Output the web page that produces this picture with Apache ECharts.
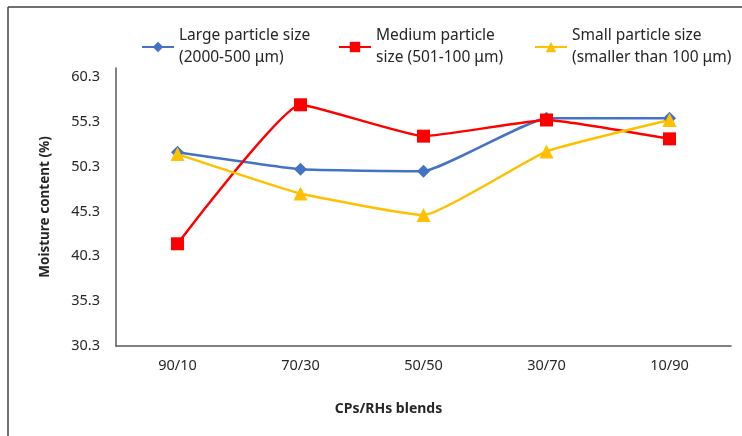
<!DOCTYPE html>
<html>
<head>
<meta charset="utf-8">
<script src="https://cdn.jsdelivr.net/npm/echarts@6/dist/echarts.min.js"></script>
<style>html,body{margin:0;padding:0;background:#fff;}#c{width:742px;height:436px;}</style>
</head>
<body>
<div id="c"></div>
<script>
const categories = ['90/10', '70/30', '50/50', '30/70', '10/90'];
const largeSize = [51.9, 50.0, 49.8, 55.7, 55.7];
const mediumSize = [41.7, 57.2, 53.7, 55.5, 53.4];
const smallSize = [51.7, 47.3, 44.9, 52.0, 55.5];
const seriesNames = ['Large particle size\n(2000-500 μm)', 'Medium particle\nsize (501-100 μm)', 'Small particle size\n(smaller than 100 μm)'];
const yMin = 30.3, yMax = 61.3, yStep = 5;

const font = 'Noto Sans';
const txt = '#262626';
const chart = echarts.init(document.getElementById('c'));
function legendAt(name, left) {
  return {
    data: [name], left: left, top: 20, orient: 'horizontal',
    itemWidth: 32, itemHeight: 13, itemGap: 6,
    textStyle: { fontFamily: font, fontSize: 15.5, color: txt, lineHeight: 22 }
  };
}
chart.setOption({
  animation: false,
  backgroundColor: '#fff',
  legend: [legendAt(seriesNames[0], 136), legendAt(seriesNames[1], 333), legendAt(seriesNames[2], 529)],
  grid: { left: 116, right: 11, top: 68, bottom: 90 },
  xAxis: {
    type: 'category', data: categories, boundaryGap: true,
    axisLine: { lineStyle: { color: '#595959', width: 1.5 } },
    axisTick: { show: false },
    axisLabel: { fontFamily: font, fontSize: 14.5, color: txt, margin: 12 },
    name: 'CPs/RHs blends', nameLocation: 'middle', nameGap: 56,
    nameTextStyle: { fontFamily: font, fontSize: 14, fontWeight: 'bold', color: txt, padding: [0, 70, 0, 0] }
  },
  yAxis: {
    type: 'value', min: yMin, max: yMax, interval: yStep,
    axisLine: { show: true, lineStyle: { color: '#595959', width: 1.5 } },
    axisTick: { show: false }, splitLine: { show: false },
    axisLabel: { fontFamily: font, fontSize: 14.5, color: txt, margin: 16, showMaxLabel: false,
      formatter: v => (Math.abs(v - yMax) < 0.01 ? '' : v.toFixed(1)) },
    name: 'Moisture content (%)', nameLocation: 'middle', nameGap: 64, nameRotate: 90,
    nameTextStyle: { fontFamily: font, fontSize: 13.5, fontWeight: 'bold', color: txt }
  },
  series: [
    { name: seriesNames[0], type: 'line', data: largeSize, smooth: 0.12, symbol: 'diamond', symbolSize: 13,
      itemStyle: { color: '#4472C4' }, lineStyle: { color: '#4472C4', width: 2.5 } },
    { name: seriesNames[1], type: 'line', data: mediumSize, smooth: 0.12, symbol: 'rect', symbolSize: 13,
      itemStyle: { color: '#FF0000' }, lineStyle: { color: '#FF0000', width: 2.5 } },
    { name: seriesNames[2], type: 'line', data: smallSize, smooth: 0.12, symbol: 'triangle', symbolSize: 14,
      itemStyle: { color: '#FFC000' }, lineStyle: { color: '#FFC000', width: 2.5 } }
  ],
  graphic: [
    { type: 'line', shape: { x1: 8, y1: 7, x2: 742, y2: 7 }, style: { stroke: '#404040', lineWidth: 1.5 } },
    { type: 'line', shape: { x1: 8, y1: 7, x2: 8, y2: 436 }, style: { stroke: '#404040', lineWidth: 1.5 } }
  ]
});
</script>
</body>
</html>
